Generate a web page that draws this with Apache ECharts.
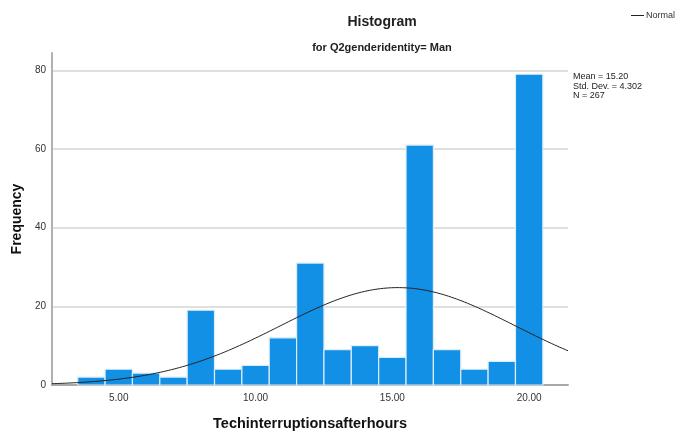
<!DOCTYPE html>
<html>
<head>
<meta charset="utf-8">
<script src="https://cdn.jsdelivr.net/npm/echarts@6/dist/echarts.min.js"></script>
<style>
  html, body { margin: 0; padding: 0; background: #fff; overflow: hidden; }
  #chart { width: 681px; height: 436px; }
</style>
</head>
<body>
<div id="chart"></div>
<script>
// Bin centres (each bin is one unit wide) and their frequencies
const binCenters = [4, 5, 6, 7, 8, 9, 10, 11, 12, 13, 14, 15, 16, 17, 18, 19, 20];
const frequencies = [2, 4, 3, 2, 19, 4, 5, 12, 31, 9, 10, 7, 61, 9, 4, 6, 79];
const binWidth = 1;

// Summary statistics shown beside the plot
const mean = 15.20;
const stdDev = 4.302;
const n = 267;

// Axis tick labels
const xTickValues = [5, 10, 15, 20];
const yTickValues = [0, 20, 40, 60, 80];
const xMin = 2.56, xMax = 21.42;
const yMax = 84.4;

const FONT = '"Liberation Sans", Arial, sans-serif';

// Fitted normal curve, scaled to counts per bin
const normalCurve = [];
for (let i = 0; i <= 380; i++) {
  const x = xMin + (xMax - xMin) * i / 380;
  const z = (x - mean) / stdDev;
  const y = n * binWidth * Math.exp(-0.5 * z * z) / (stdDev * Math.sqrt(2 * Math.PI));
  normalCurve.push([x, y]);
}

const histData = binCenters.map((c, i) => [c, frequencies[i]]);

const chart = echarts.init(document.getElementById('chart'), null, { renderer: 'canvas', width: 681, height: 436 });

chart.setOption({
  animation: false,
  backgroundColor: '#ffffff',
  textStyle: { fontFamily: FONT },
  title: [
    {
      text: 'Histogram',
      left: 377, top: 10, textAlign: 'center',
      textStyle: { fontFamily: FONT, fontSize: 14, fontWeight: 'bold', color: '#222' }
    },
    {
      text: 'for Q2genderidentity= Man',
      left: 377, top: 37, textAlign: 'center',
      textStyle: { fontFamily: FONT, fontSize: 11, fontWeight: 'bold', color: '#222' }
    }
  ],
  grid: { left: 52, top: 53, width: 516, height: 336.5, containLabel: false },
  xAxis: {
    type: 'value',
    min: xMin, max: xMax,
    name: 'Techinterruptionsafterhours',
    nameLocation: 'middle',
    nameGap: 31,
    nameTextStyle: { fontFamily: FONT, fontSize: 14.5, fontWeight: 'bold', color: '#111' },
    axisLine: { show: true, onZero: false, lineStyle: { color: '#a8a8a8', width: 2 } },
    axisTick: { show: false },
    splitLine: { show: false },
    axisLabel: {
      customValues: xTickValues,
      formatter: v => v.toFixed(2),
      fontFamily: FONT, fontSize: 10, color: '#333', margin: 8
    }
  },
  yAxis: {
    type: 'value',
    min: 0, max: yMax,
    name: 'Frequency',
    nameLocation: 'middle',
    nameGap: 27,
    nameTextStyle: { fontFamily: FONT, fontSize: 14, fontWeight: 'bold', color: '#111' },
    axisLine: { show: true, lineStyle: { color: '#b0b0b0', width: 2 } },
    axisTick: { show: false, customValues: yTickValues },
    axisLabel: { customValues: yTickValues, fontFamily: FONT, fontSize: 10, color: '#333', margin: 6 },
    splitLine: { show: true, lineStyle: { color: '#d4d4d4', width: 1.5 } }
  },
  series: [
    {
      name: 'Frequency',
      type: 'custom',
      data: histData,
      encode: { x: 0, y: 1 },
      renderItem: function (params, api) {
        const c = api.value(0), v = api.value(1);
        const p0 = api.coord([c - binWidth / 2, 0]);
        const p1 = api.coord([c + binWidth / 2, v]);
        return {
          type: 'rect',
          shape: { x: p0[0], y: p1[1], width: p1[0] - p0[0], height: p0[1] - p1[1] },
          style: { fill: '#1290e6', stroke: '#dcecf8', lineWidth: 1.2 }
        };
      },
      z: 2
    },
    {
      name: 'Normal',
      type: 'line',
      data: normalCurve,
      showSymbol: false,
      symbol: 'none',
      smooth: false,
      lineStyle: { color: '#222', width: 1 },
      z: 3
    }
  ],
  graphic: [
    // Legend key for the normal curve
    {
      type: 'line',
      shape: { x1: 631, y1: 15.5, x2: 644, y2: 15.5 },
      style: { stroke: '#222', lineWidth: 1 }
    },
    {
      type: 'text',
      left: 646, top: 11,
      style: { text: 'Normal', font: '9px ' + FONT, fill: '#333' }
    },
    {
      type: 'text',
      left: 573, top: 72,
      style: {
        text: 'Mean = ' + mean.toFixed(2) + '\nStd. Dev. = ' + stdDev.toFixed(3) + '\nN = ' + n,
        font: '9px ' + FONT,
        lineHeight: 9.5,
        fill: '#222'
      }
    }
  ]
});
</script>
</body>
</html>
